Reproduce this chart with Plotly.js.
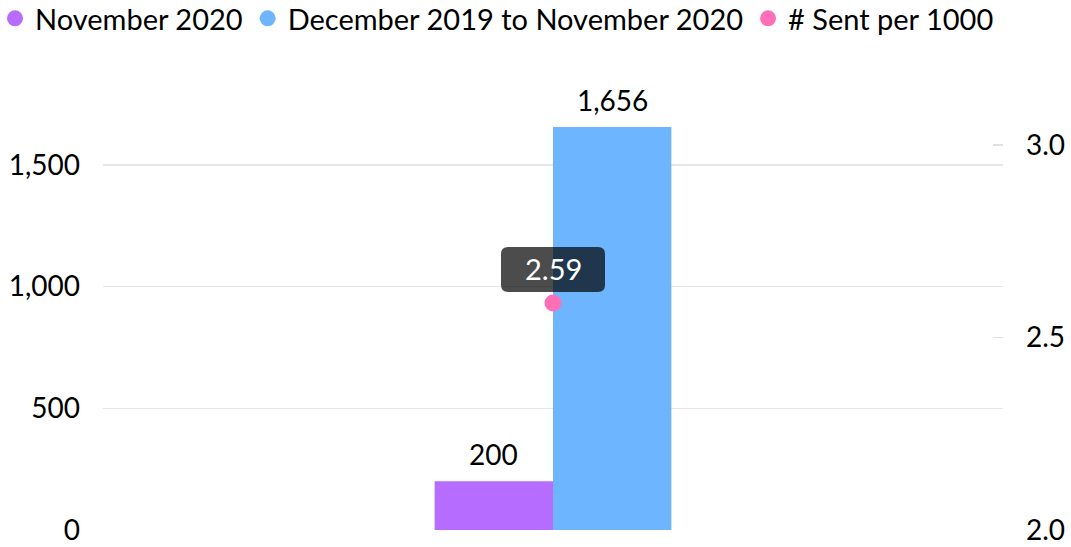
<!DOCTYPE html>
<html>
<head>
<meta charset="utf-8">
<script src="https://cdn.plot.ly/plotly-3.0.1.min.js"></script>
<style>html,body{margin:0;padding:0;background:#fff;}#chart{width:1071px;height:547px;}</style>
</head>
<body>
<div id="chart"></div>
<script>
const categories = ["Total"];
const novemberValues = [200];
const yearValues = [1656];
const sentPer1000 = [2.59];
const seriesNames = ["November 2020", "December 2019 to November 2020", "# Sent per 1000"];
const leftTicks = [0, 500, 1000, 1500];
const rightTicks = [2.0, 2.5, 3.0];

const FONT = "Lato, 'Open Sans', sans-serif";
const FS = 28;
const colors = ["#b56cff", "#6db6ff", "#ff6fb6"];

const traces = [
  {type: "bar", x: categories, y: novemberValues, name: seriesNames[0], marker: {color: colors[0]}, showlegend: false},
  {type: "bar", x: categories, y: yearValues, name: seriesNames[1], marker: {color: colors[1]}, showlegend: false},
  {type: "scatter", mode: "markers", x: categories, y: sentPer1000, yaxis: "y2", name: seriesNames[2],
   marker: {color: colors[2], size: 17}, showlegend: false}
];
seriesNames.forEach((n, i) => traces.push({type: "scatter", mode: "markers", x: [null], y: [null], name: n,
  marker: {color: colors[i], size: 17, symbol: "circle"}, showlegend: true, hoverinfo: "skip"}));

const fmt = v => v.toLocaleString("en-US");
const barLabels = [
  {y: novemberValues[0], off: -0.5},
  {y: yearValues[0], off: 0.5}
];

// rounded label box (pixel path relative to the point)
const boxPath = "M -45,11 L 45,11 Q 52,11 52,18 L 52,49 Q 52,56 45,56 L -45,56 Q -52,56 -52,49 L -52,18 Q -52,11 -45,11 Z";

const layout = {
  width: 1071, height: 547,
  margin: {l: 103, r: 68, t: 92, b: 17, autoexpand: false},
  paper_bgcolor: "#fff", plot_bgcolor: "#fff",
  font: {family: FONT, size: FS, color: "#000"},
  barmode: "group", bargap: 0.737, bargroupgap: 0,
  showlegend: true,
  legend: {orientation: "h", xref: "paper", yref: "paper", x: -0.12, y: 1.226, xanchor: "left", yanchor: "top",
    font: {size: 29, family: FONT, color: "#000"}, itemwidth: 30, tracegroupgap: 0, traceorder: "normal",
    bgcolor: "rgba(0,0,0,0)"},
  xaxis: {type: "category", showticklabels: false, showgrid: false, zeroline: false, showline: false, ticks: ""},
  yaxis: {range: [0, 1800], tickvals: leftTicks, ticktext: leftTicks.map(fmt),
    showgrid: true, gridcolor: "#e6e6e6", gridwidth: 1.5, zeroline: false, showline: false,
    ticks: "", ticklabelstandoff: 22, tickfont: {size: FS, family: FONT, color: "#000"}},
  yaxis2: {overlaying: "y", side: "right", range: [2.0, 3.138], tickvals: rightTicks,
    ticktext: rightTicks.map(v => v.toFixed(1)), showgrid: false, zeroline: false, showline: false,
    ticks: "inside", ticklen: 10, tickcolor: "#e0e0e0", tickwidth: 1.5, ticklabelstandoff: 22,
    tickfont: {size: FS, family: FONT, color: "#000"}},
  shapes: [{type: "path", xref: "x", yref: "y2", xsizemode: "pixel", ysizemode: "pixel",
    xanchor: 0, yanchor: sentPer1000[0], path: boxPath, fillcolor: "rgba(0,0,0,0.7)", line: {width: 0}, layer: "above"}],
  annotations: [
    ...barLabels.map(b => ({x: categories[0], y: b.y, xref: "x", yref: "y", xshift: b.off * 118.5, yshift: 27,
      yanchor: "middle", showarrow: false, text: fmt(b.y), font: {size: FS, color: "#000", family: FONT}})),
    {x: categories[0], y: sentPer1000[0], xref: "x", yref: "y2", yshift: 34, yanchor: "middle", showarrow: false,
    text: sentPer1000[0].toFixed(2), font: {size: 29, color: "#fff", family: FONT}}]
};
Plotly.newPlot("chart", traces, layout, {staticPlot: true, displayModeBar: false});
</script>
</body>
</html>
